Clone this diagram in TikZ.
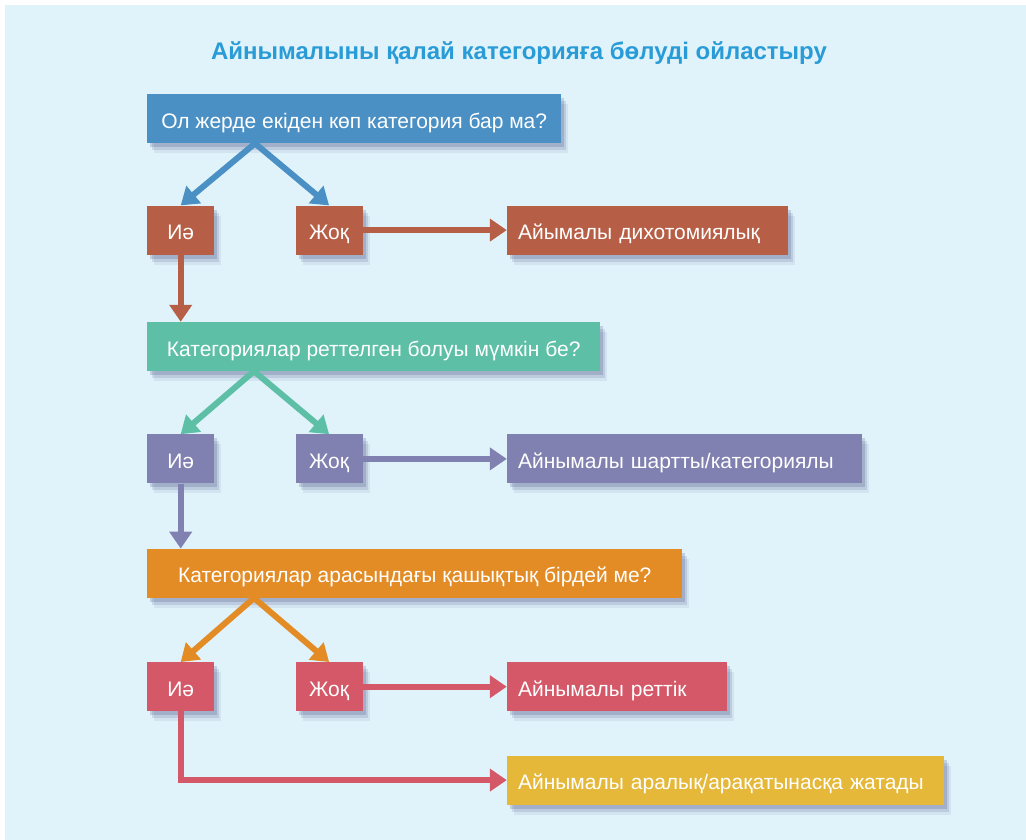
\documentclass[tikz,border=0pt]{standalone}
\usepackage{fontspec}
\setmainfont{Liberation Sans}
\usetikzlibrary{arrows.meta,positioning,shadows}
\definecolor{bgblue}{RGB}{224,243,250}
\definecolor{titleblue}{RGB}{41,155,215}
\definecolor{qblue}{RGB}{74,144,196}
\definecolor{rust}{RGB}{183,95,70}
\definecolor{seagreen}{RGB}{93,191,166}
\definecolor{lilac}{RGB}{128,128,177}
\definecolor{amber}{RGB}{227,139,36}
\definecolor{rose}{RGB}{212,88,104}
\definecolor{mustard}{RGB}{229,184,58}

\begin{document}
\begin{tikzpicture}[
  x=1pt,y=-1pt,
  softshadow/.style={
    general shadow={shadow xshift=7pt,shadow yshift=-10pt,fill=black!70!blue,opacity=.06},
    general shadow={shadow xshift=5pt,shadow yshift=-7pt,fill=black!70!blue,opacity=.1},
    general shadow={shadow xshift=3pt,shadow yshift=-4pt,fill=black!70!blue,opacity=.14}},
  box/.style={fill=#1,text=white,inner sep=0pt,minimum height=49pt,text height=20pt,text depth=1pt,
    font=\fontsize{21}{25}\selectfont,softshadow},
  qbox/.style={box=#1},
  ansbox/.style={box=#1,minimum width=67pt},
  resbox/.style={box=#1,inner xsep=11pt,align=left},
  arr/.style={line width=6pt,-{Triangle[length=17pt,width=22pt]}}
]
\useasboundingbox (0,0) rectangle (1026,840);
\fill[bgblue] (5,5) rectangle (1026,840);
\node[text=titleblue,font=\bfseries\fontsize{24}{28}\selectfont,anchor=base] (title) at (519,60) {Айнымалыны қалай категорияға бөлуді ойластыру};

% first question
\node[qbox=qblue,minimum width=414pt,anchor=north west] (q1) at (147,94) {Ол жерде екіден көп категория бар ма?};
\node[ansbox=rust,below=62pt of q1.south west,anchor=north west] (yes1) {Иә};
\node[ansbox=rust,right=81pt of yes1] (no1) {Жоқ};
\node[resbox=rust,text width=259pt,right=144pt of no1] (res1) {Айымалы дихотомиялық};

% second question
\node[qbox=seagreen,minimum width=453pt,below=67pt of yes1.south west,anchor=north west] (q2) {Категориялар реттелген болуы мүмкін бе?};
\node[ansbox=lilac,below=63pt of q2.south west,anchor=north west] (yes2) {Иә};
\node[ansbox=lilac,right=81pt of yes2] (no2) {Жоқ};
\node[resbox=lilac,text width=333pt,right=144pt of no2] (res2) {Айнымалы шартты/категориялы};

% third question
\node[qbox=amber,minimum width=535pt,below=65pt of yes2.south west,anchor=north west] (q3) {Категориялар арасындағы қашықтық бірдей ме?};
\node[ansbox=rose,below=64pt of q3.south west,anchor=north west] (yes3) {Иә};
\node[ansbox=rose,right=81pt of yes3] (no3) {Жоқ};
\node[resbox=rose,text width=198pt,right=144pt of no3] (res3) {Айнымалы реттік};
\node[resbox=mustard,text width=415pt,below=44pt of res3.south west,anchor=north west] (res4) {Айнымалы аралық/арақатынасқа жатады};

\coordinate (q1o) at ([xshift=108pt]q1.south west);
\coordinate (q2o) at ([xshift=107pt]q2.south west);
\coordinate (q3o) at ([xshift=107pt]q3.south west);

\draw[arr,qblue] (q1o) -- (yes1.north);
\draw[arr,qblue] (q1o) -- (no1.north);
\draw[arr,rust] (no1) -- (res1);
\draw[arr,rust] (yes1.south) -- (yes1.south |- q2.north);

\draw[arr,seagreen] (q2o) -- (yes2.north);
\draw[arr,seagreen] (q2o) -- (no2.north);
\draw[arr,lilac] (no2) -- (res2);
\draw[arr,lilac] (yes2.south) -- (yes2.south |- q3.north);

\draw[arr,amber] (q3o) -- (yes3.north);
\draw[arr,amber] (q3o) -- (no3.north);
\draw[arr,rose] (no3) -- (res3);
\draw[arr,rose] (yes3.south) -- (yes3.south |- res4.west) -- (res4.west);
\end{tikzpicture}
\end{document}
